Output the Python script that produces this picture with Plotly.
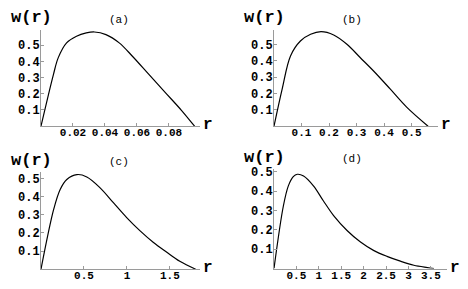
import plotly.graph_objects as go

W, H = 468, 289

# ---- data ----
r_a = [0, 0.0078, 0.0108, 0.016, 0.0222, 0.0283, 0.0334, 0.0406, 0.0489, 0.057, 0.0673, 0.0776, 0.0878, 0.096]
w_a = [0, 0.32, 0.423, 0.514, 0.555, 0.575, 0.581, 0.565, 0.514, 0.433, 0.321, 0.209, 0.098, 0]

r_b = [0, 0.030, 0.060, 0.096, 0.133, 0.171, 0.217, 0.265, 0.313, 0.361, 0.422, 0.482, 0.56]
w_b = [0, 0.23, 0.430, 0.521, 0.562, 0.578, 0.558, 0.501, 0.420, 0.339, 0.228, 0.117, 0]

r_c = [0, 0.148, 0.223, 0.30, 0.418, 0.533, 0.688, 0.842, 0.997, 1.15, 1.305, 1.46, 1.615, 1.80]
w_c = [0, 0.331, 0.440, 0.495, 0.522, 0.509, 0.449, 0.367, 0.285, 0.213, 0.149, 0.095, 0.044, 0]

r_d = [0, 0.21, 0.32, 0.43, 0.52, 0.66, 0.88, 1.10, 1.33, 1.63, 1.93, 2.22, 2.52, 2.82, 3.12, 3.42, 3.57]
w_d = [0, 0.325, 0.428, 0.476, 0.488, 0.479, 0.428, 0.351, 0.274, 0.197, 0.137, 0.094, 0.063, 0.038, 0.017, 0.005, 0]

ticks_x_a = [0.02, 0.04, 0.06, 0.08]
ticks_x_b = [0.1, 0.2, 0.3, 0.4, 0.5]
ticks_x_c = [0.5, 1, 1.5]
ticks_x_d = [0.5, 1, 1.5, 2, 2.5, 3, 3.5]
ticks_y = [0.1, 0.2, 0.3, 0.4, 0.5]
panel_labels = ["(a)", "(b)", "(c)", "(d)"]

# ---- layout geometry (pixels) ----
panels = [
    dict(x0=41, x1=200, yb=124.5, yt=27, xmax=0.0994, ymax=0.595, r=r_a, w=w_a, xt=ticks_x_a),
    dict(x0=274, x1=438, yb=124.5, yt=27, xmax=0.596, ymax=0.59, r=r_b, w=w_b, xt=ticks_x_b),
    dict(x0=41, x1=200, yb=269, yt=171, xmax=1.85, ymax=0.535, r=r_c, w=w_c, xt=ticks_x_c),
    dict(x0=274, x1=447, yb=268.3, yt=168, xmax=3.86, ymax=0.514, r=r_d, w=w_d, xt=ticks_x_d),
]

AXC = "#9a9a9a"
FONT = "Liberation Mono"

fig = go.Figure()
layout = dict(width=W, height=H, margin=dict(l=0, r=0, t=0, b=0),
              paper_bgcolor="white", plot_bgcolor="white", showlegend=False)
annotations = []

for i, p in enumerate(panels, start=1):
    xa = "x" if i == 1 else f"x{i}"
    ya = "y" if i == 1 else f"y{i}"
    fig.add_trace(go.Scatter(x=p["r"], y=p["w"], mode="lines",
                             line=dict(color="black", width=1.2, shape="spline"),
                             xaxis=xa, yaxis=ya, hoverinfo="skip"))
    xdom = [p["x0"] / W, p["x1"] / W]
    ydom = [1 - p["yb"] / H, 1 - p["yt"] / H]
    layout["xaxis" if i == 1 else f"xaxis{i}"] = dict(
        domain=xdom, range=[0, p["xmax"]], anchor=ya,
        showline=True, linecolor=AXC, linewidth=1, showgrid=False, zeroline=False,
        tickvals=p["xt"], ticktext=[f"{v:g}" for v in p["xt"]],
        ticks="inside", ticklen=3, tickcolor=AXC, ticklabelstandoff=-4,
        tickfont=dict(family=FONT, size=11, color="black", weight="bold"),
    )
    layout["yaxis" if i == 1 else f"yaxis{i}"] = dict(
        domain=ydom, range=[0, p["ymax"]], anchor=xa,
        showline=True, linecolor=AXC, linewidth=1, showgrid=False, zeroline=False,
        tickvals=ticks_y, ticktext=[f"{v:g}" for v in ticks_y],
        ticks="inside", ticklen=3, tickcolor=AXC, ticklabelstandoff=-2,
        tickfont=dict(family=FONT, size=12, color="black", weight="bold"),
    )
    annotations.append(dict(text="<b>w(r)</b>", xref="paper", yref="paper",
                            x=(p["x0"] - 10) / W, y=1 - (p["yt"] - 12) / H,
                            xanchor="center", yanchor="middle", showarrow=False,
                            font=dict(family=FONT, size=17, color="black")))
    annotations.append(dict(text=panel_labels[i - 1], xref="paper", yref="paper",
                            x=(p["x0"] + 78) / W, y=1 - (p["yt"] - 10) / H,
                            xanchor="center", yanchor="middle", showarrow=False,
                            font=dict(family=FONT, size=11, color="black")))
    annotations.append(dict(text="<b>r</b>", xref="paper", yref="paper",
                            x=(p["x1"] + 8) / W, y=1 - (p["yb"] - 1) / H,
                            xanchor="center", yanchor="middle", showarrow=False,
                            font=dict(family=FONT, size=16, color="black")))

layout["annotations"] = annotations
fig.update_layout(**layout)
fig.write_html("out.html", config={"displayModeBar": False},
               post_script="document.body.style.margin='0';document.body.style.overflow='hidden';")
